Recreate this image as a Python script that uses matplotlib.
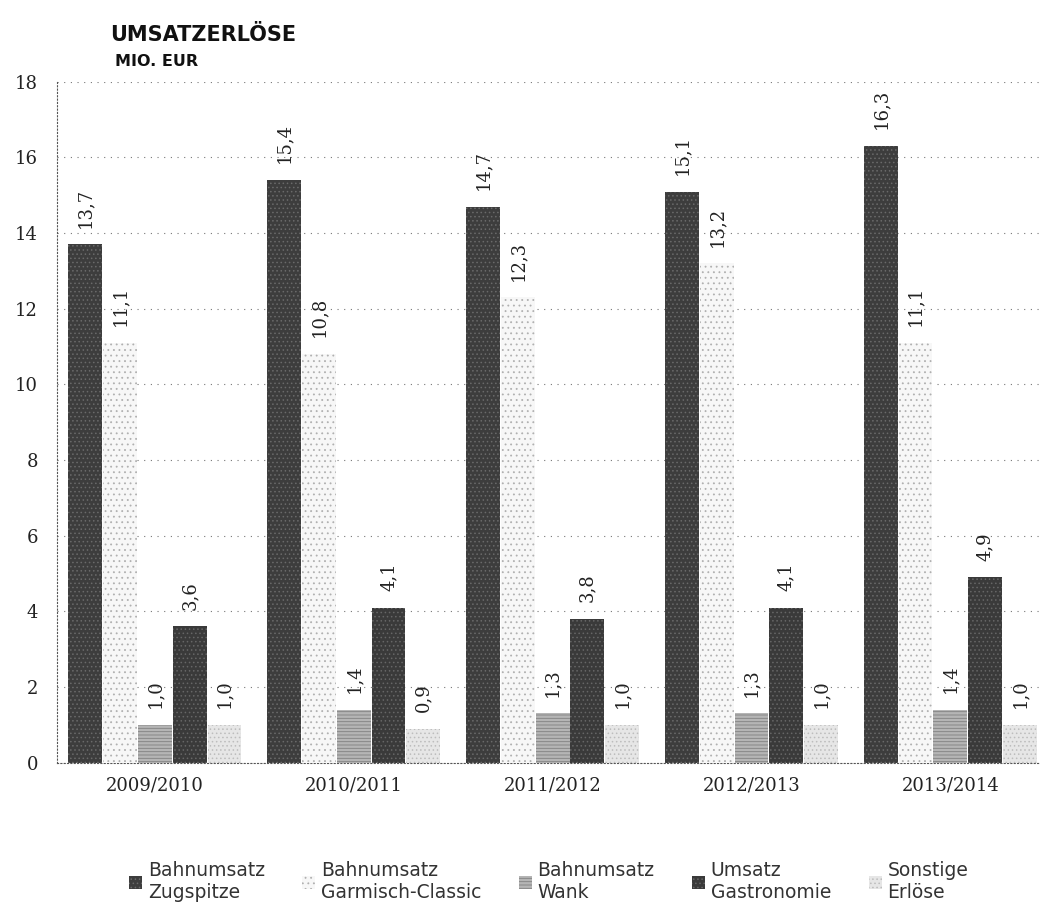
import matplotlib.pyplot as plt
import numpy as np

plt.rcParams['hatch.linewidth'] = 0.6

years = ['2009/2010', '2010/2011', '2011/2012', '2012/2013', '2013/2014']
series = ['Bahnumsatz\nZugspitze', 'Bahnumsatz\nGarmisch-Classic', 'Bahnumsatz\nWank',
          'Umsatz\nGastronomie', 'Sonstige\nErlöse']
zugspitze = [13.7, 15.4, 14.7, 15.1, 16.3]
garmisch = [11.1, 10.8, 12.3, 13.2, 11.1]
wank = [1.0, 1.4, 1.3, 1.3, 1.4]
gastro = [3.6, 4.1, 3.8, 4.1, 4.9]
sonstige = [1.0, 0.9, 1.0, 1.0, 1.0]

values = [zugspitze, garmisch, wank, gastro, sonstige]
faces = ['#3d3d3d', '#f7f7f7', '#b5b5b5', '#3a3a3a', '#e6e6e6']
hatches = ['....', '...', '-----', '....', '....']
hatch_cols = ['#6a6a6a', '#b0b0b0', '#808080', '#666666', '#bdbdbd']

fig = plt.figure(figsize=(10.45, 9.09), dpi=100)
ax = fig.add_axes([0.055, 0.161, 0.94, 0.749])

x = np.arange(len(years))
w = 0.17
step = 0.175
for i, vals in enumerate(values):
    pos = x + (i - 2) * step
    bars = ax.bar(pos, vals, width=w, color=faces[i], hatch=hatches[i],
                  edgecolor=hatch_cols[i], linewidth=0, label=series[i], zorder=3)
    for b, v in zip(bars, vals):
        ax.annotate(f'{v:.1f}'.replace('.', ','), (b.get_x() + b.get_width() / 2, v),
                    xytext=(0, 12), textcoords='offset points', rotation=90,
                    ha='center', va='bottom', fontsize=13, color='#222222',
                    family='DejaVu Serif')

ax.set_xlim(-0.49, 4.45)
ax.set_ylim(0, 18)
ax.set_yticks(range(0, 19, 2))
ax.set_xticks(x)
ax.set_xticklabels(years, fontsize=13, family='DejaVu Serif', color='#222222')
ax.tick_params(axis='y', labelsize=13, length=0, pad=14, colors='#222222')
ax.tick_params(axis='x', length=0, pad=10)
for t in ax.get_yticklabels():
    t.set_family('DejaVu Serif')
ax.grid(axis='y', linestyle=(0, (1, 5)), color='#777777', linewidth=0.8, zorder=0)
for s in ['top', 'right']:
    ax.spines[s].set_visible(False)
for s in ['left', 'bottom']:
    ax.spines[s].set_linestyle((0, (1, 2)))
    ax.spines[s].set_color('#555555')
    ax.spines[s].set_linewidth(0.8)

fig.text(0.105, 0.955, 'UMSATZERLÖSE', fontsize=15, fontweight='bold', color='#111111')
fig.text(0.11, 0.927, 'MIO. EUR', fontsize=11.5, fontweight='bold', color='#111111')

ax.legend(loc='upper center', bbox_to_anchor=(0.5, -0.12), ncol=5, frameon=False,
          fontsize=13.5, handlelength=0.7, handleheight=0.7, handletextpad=0.3,
          columnspacing=2.0, labelcolor='#333333')

fig.savefig('out.png', dpi=100)
